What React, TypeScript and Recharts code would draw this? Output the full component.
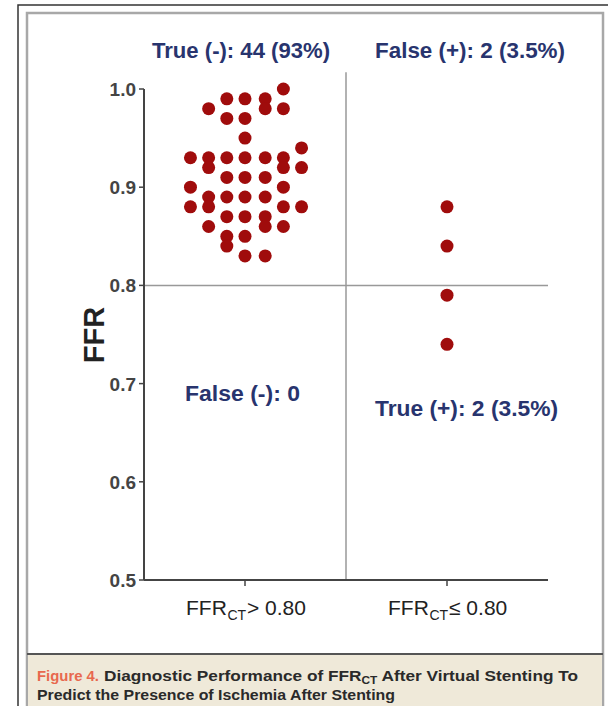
import React from 'react';
import { ScatterChart, Scatter, XAxis, YAxis, ReferenceLine } from 'recharts';

// ---- data ----
const categoryLabels = ['>', '≤'];
const categoryPositions = [0.5, 1.5];
const yTicks = [0.5, 0.6, 0.7, 0.8, 0.9, 1.0];
const threshold = 0.8;

// FFR_CT > 0.80 group (x = jittered position inside the category)
const negativeX = [
  0.69,
  0.41, 0.5, 0.6,
  0.32, 0.6, 0.69,
  0.41, 0.5,
  0.5,
  0.78,
  0.23, 0.32, 0.41, 0.5, 0.6, 0.69,
  0.32, 0.69, 0.78,
  0.41, 0.5, 0.6,
  0.23, 0.69,
  0.32, 0.41, 0.5, 0.6,
  0.23, 0.32, 0.69, 0.78,
  0.41, 0.5, 0.6,
  0.32, 0.6, 0.69,
  0.41, 0.5,
  0.41,
  0.5, 0.6,
];
const negativeFFR = [
  1.0,
  0.99, 0.99, 0.99,
  0.98, 0.98, 0.98,
  0.97, 0.97,
  0.95,
  0.94,
  0.93, 0.93, 0.93, 0.93, 0.93, 0.93,
  0.92, 0.92, 0.92,
  0.91, 0.91, 0.91,
  0.9, 0.9,
  0.89, 0.89, 0.89, 0.89,
  0.88, 0.88, 0.88, 0.88,
  0.87, 0.87, 0.87,
  0.86, 0.86, 0.86,
  0.85, 0.85,
  0.84,
  0.83, 0.83,
];

// FFR_CT <= 0.80 group
const positiveX = [1.5, 1.5, 1.5, 1.5];
const positiveFFR = [0.88, 0.84, 0.79, 0.74];

const quadrantLabels = ['True (-): 44 (93%)', 'False (+): 2 (3.5%)', 'False (-): 0', 'True (+): 2 (3.5%)'];
const captionLead = 'Figure 4.';
const captionLine1 = ['Diagnostic Performance of FFR', 'CT', ' After Virtual Stenting To'];
const captionLine2 = 'Predict the Presence of Ischemia After Stenting';

const negativeData = negativeX.map((x, i) => ({ x, y: negativeFFR[i] }));
const positiveData = positiveX.map((x, i) => ({ x, y: positiveFFR[i] }));

const DOT = '#A00C0C';
const NAVY = '#28346E';
const NARROW = "'Liberation Sans Narrow', 'Arial Narrow', 'Liberation Sans', Arial, sans-serif";
const SANS = "'Liberation Sans', Arial, sans-serif";

const Dot = (props: any) => <circle cx={props.cx} cy={props.cy} r={6.5} fill={DOT} />;

const XTick = (props: any) => {
  const { x, y, payload } = props;
  const idx = categoryPositions.indexOf(payload.value);
  const op = categoryLabels[idx];
  const left = x - 59;
  const base = y + 27;
  return (
    <g fontFamily={SANS} fill="#222">
      <text x={left} y={base} fontSize={21}>FFR</text>
      <text x={left + 41.5} y={base + 5} fontSize={14}>CT</text>
      <text x={left + 61} y={base} fontSize={21}>{op} 0.80</text>
    </g>
  );
};

const YTick = (props: any) => {
  const { x, y, payload } = props;
  return (
    <text x={x} y={y + 7} textAnchor="end" fontFamily={SANS} fontSize={19} fontWeight="bold" fill="#444">
      {Number(payload.value).toFixed(1)}
    </text>
  );
};

export default function App() {
  return (
    <div style={{ position: 'relative', width: 608, height: 706, background: '#fff', overflow: 'hidden' }}>
      <style>{`body{margin:0}`}</style>
      {/* frame & caption background */}
      <svg width={608} height={706} style={{ position: 'absolute', left: 0, top: 0 }}>
        <rect x={18} y={5} width={620} height={720} fill="none" stroke="#333" strokeWidth={1.5} />
        <rect x={27} y={13} width={576} height={710} fill="none" stroke="#A8A8A8" strokeWidth={2.5} />
        <rect x={28} y={654} width={574} height={60} fill="#EFE9D9" />
        <line x1={27} x2={603} y1={654} y2={654} stroke="#555" strokeWidth={2} />
      </svg>
      <div style={{ position: 'absolute', left: 0, top: 0 }}>
        <ScatterChart width={608} height={706} margin={{ top: 89, right: 60, bottom: 66, left: 84 }}>
          <XAxis
            type="number"
            dataKey="x"
            domain={[0, 2]}
            ticks={categoryPositions}
            tick={<XTick />}
            tickSize={6}
            tickMargin={2}
            height={60}
            axisLine={{ stroke: '#444', strokeWidth: 2 }}
            tickLine={{ stroke: '#444', strokeWidth: 1.5 }}
          />
          <YAxis
            type="number"
            dataKey="y"
            domain={[0.5, 1.0]}
            ticks={yTicks}
            tick={<YTick />}
            tickSize={5}
            tickMargin={3}
            width={60}
            axisLine={{ stroke: '#444', strokeWidth: 2 }}
            tickLine={{ stroke: '#444', strokeWidth: 1.5 }}
          />
          <ReferenceLine y={threshold} stroke="#999" strokeWidth={1.5} />
          <ReferenceLine
            segment={[{ x: 1, y: 0.5 }, { x: 1, y: 1.017 }]}
            stroke="#999"
            strokeWidth={1.5}
            ifOverflow="visible"
          />
          <Scatter data={negativeData} shape={<Dot />} isAnimationActive={false} />
          <Scatter data={positiveData} shape={<Dot />} isAnimationActive={false} />
        </ScatterChart>
      </div>
      {/* text overlay */}
      <svg width={608} height={706} style={{ position: 'absolute', left: 0, top: 0, pointerEvents: 'none' }}>
        <g fontFamily={NARROW} fontSize={22} fontWeight="bold" fill={NAVY}>
          <text x={152} y={58} textLength={178} lengthAdjust="spacingAndGlyphs">{quadrantLabels[0]}</text>
          <text x={375} y={58} textLength={190} lengthAdjust="spacingAndGlyphs">{quadrantLabels[1]}</text>
          <text x={185} y={401} textLength={115} lengthAdjust="spacingAndGlyphs">{quadrantLabels[2]}</text>
          <text x={375} y={416} textLength={183} lengthAdjust="spacingAndGlyphs">{quadrantLabels[3]}</text>
        </g>
        <text
          x={0}
          y={0}
          transform="translate(104,335) rotate(-90)"
          textAnchor="middle"
          fontFamily={SANS}
          fontSize={29}
          fontWeight="bold"
          fill="#222"
        >
          FFR
        </text>
        <g fontFamily={SANS} fontSize={14.5} fontWeight="bold">
          <text x={37} y={681} fill="#E8684E" textLength={62} lengthAdjust="spacingAndGlyphs">{captionLead}</text>
          <text x={104} y={681} fill="#2A2A2A" textLength={474} lengthAdjust="spacingAndGlyphs">
            <tspan>{captionLine1[0]}</tspan>
            <tspan fontSize={10} dy={3}>{captionLine1[1]}</tspan>
            <tspan dy={-3}>{captionLine1[2]}</tspan>
          </text>
          <text x={37} y={700} fill="#2A2A2A" textLength={358} lengthAdjust="spacingAndGlyphs">{captionLine2}</text>
        </g>
      </svg>
    </div>
  );
}
